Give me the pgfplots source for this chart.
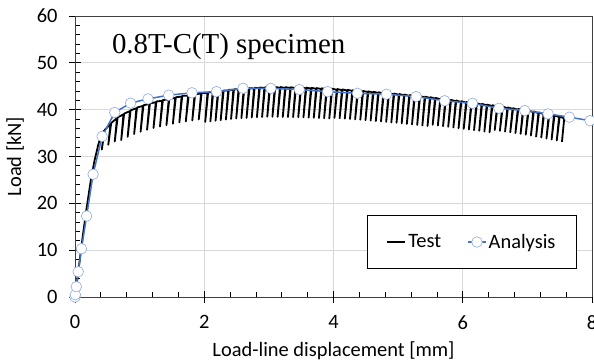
\documentclass[border=0pt]{standalone}
\usepackage{pgfplots}
\pgfplotsset{compat=1.18}
\usepackage{fontspec}
\setmainfont{Carlito}
\newfontfamily\timesfont{Liberation Serif}
\definecolor{anblue}{HTML}{4472C4}
\definecolor{mkblue}{HTML}{8FAADC}
\definecolor{gridgray}{HTML}{D9D9D9}
\definecolor{axgray}{HTML}{404040}
\pgfplotstableread{
x y
0 0
0.03 3
0.07 7.5
0.12 13
0.18 19
0.24 24.5
0.30 29
0.36 32.5
0.41 34.8
0.45 35.5
0.415 31.5
0.46 35.65
0.55 37.0
0.515 32.5
0.56 37.15
0.65 38.2
0.615 33.2
0.66 38.35
0.75 39.0
0.715 33.5
0.76 39.15
0.85 39.7
0.815 34.2
0.86 39.85
0.95 40.3
0.915 34.8
0.96 40.45
1.05 40.8
1.015 35.3
1.06 40.95
1.15 41.2
1.115 35.7
1.16 41.35
1.25 41.6
1.215 36.1
1.26 41.75
1.35 41.9
1.315 36.4
1.36 42.05
1.45 42.2
1.415 36.7
1.46 42.35
1.55 42.5
1.515 37.0
1.56 42.65
1.65 42.8
1.615 37.3
1.66 42.95
1.75 43.0
1.715 37.5
1.76 43.15
1.85 43.2
1.815 37.7
1.86 43.35
1.95 43.4
1.915 37.9
1.96 43.55
2.05 43.58
2.015 37.38
2.06 43.73
2.13 43.71
2.095 37.51
2.14 43.86
2.21 43.84
2.175 37.64
2.22 43.99
2.29 43.96
2.255 37.76
2.30 44.11
2.37 44.09
2.335 37.89
2.38 44.24
2.45 44.22
2.415 38.02
2.46 44.37
2.53 44.32
2.495 38.12
2.54 44.47
2.61 44.39
2.575 38.19
2.62 44.54
2.69 44.45
2.655 38.25
2.70 44.60
2.77 44.52
2.735 38.32
2.78 44.67
2.85 44.58
2.815 38.38
2.86 44.73
2.93 44.64
2.895 38.44
2.94 44.79
3.01 44.70
2.975 38.50
3.02 44.85
3.09 44.68
3.055 38.48
3.10 44.83
3.17 44.67
3.135 38.47
3.18 44.82
3.25 44.65
3.215 38.45
3.26 44.80
3.33 44.63
3.295 38.43
3.34 44.78
3.41 44.62
3.375 38.42
3.42 44.77
3.49 44.60
3.455 38.40
3.50 44.75
3.57 44.56
3.535 38.36
3.58 44.71
3.65 44.51
3.615 38.31
3.66 44.66
3.73 44.46
3.695 38.26
3.74 44.61
3.81 44.41
3.775 38.21
3.82 44.56
3.89 44.37
3.855 38.17
3.90 44.52
3.97 44.32
3.935 38.12
3.98 44.47
4.05 44.25
4.015 38.25
4.06 44.40
4.13 44.17
4.095 38.17
4.14 44.32
4.21 44.09
4.175 38.09
4.22 44.24
4.29 44.01
4.255 38.01
4.30 44.16
4.37 43.93
4.335 37.93
4.38 44.08
4.45 43.85
4.415 37.85
4.46 44.00
4.53 43.76
4.495 37.76
4.54 43.91
4.61 43.67
4.575 37.67
4.62 43.82
4.69 43.57
4.655 37.57
4.70 43.72
4.77 43.48
4.735 37.48
4.78 43.63
4.85 43.38
4.815 37.38
4.86 43.53
4.93 43.28
4.895 37.28
4.94 43.43
5.01 43.19
4.975 37.19
5.02 43.34
5.09 43.07
5.055 37.07
5.10 43.22
5.17 42.96
5.135 36.96
5.18 43.11
5.25 42.85
5.215 36.85
5.26 43.00
5.33 42.74
5.295 36.74
5.34 42.89
5.41 42.63
5.375 36.63
5.42 42.78
5.49 42.51
5.455 36.51
5.50 42.66
5.57 42.37
5.535 36.77
5.58 42.52
5.65 42.23
5.615 36.63
5.66 42.38
5.73 42.09
5.695 36.49
5.74 42.24
5.81 41.94
5.775 36.34
5.82 42.09
5.89 41.80
5.855 36.20
5.90 41.95
5.97 41.65
5.935 36.05
5.98 41.80
6.05 41.51
6.015 35.91
6.06 41.66
6.13 41.37
6.095 35.77
6.14 41.52
6.21 41.22
6.175 35.62
6.22 41.37
6.29 41.08
6.255 35.48
6.30 41.23
6.37 40.93
6.335 35.33
6.38 41.08
6.45 40.79
6.415 35.19
6.46 40.94
6.53 40.64
6.495 35.64
6.54 40.79
6.61 40.48
6.575 35.48
6.62 40.63
6.69 40.32
6.655 35.32
6.70 40.47
6.77 40.16
6.735 35.16
6.78 40.31
6.85 40.00
6.815 35.00
6.86 40.15
6.93 39.84
6.895 34.84
6.94 39.99
7.01 39.67
6.975 34.67
7.02 39.82
7.09 39.47
7.055 34.47
7.10 39.62
7.17 39.26
7.135 34.26
7.18 39.41
7.25 39.05
7.215 34.05
7.26 39.20
7.33 38.84
7.295 33.84
7.34 38.99
7.41 38.63
7.375 33.63
7.42 38.78
7.49 38.43
7.455 33.43
7.50 38.58
7.57 38.12
7.535 33.12
}\testdata
\pgfplotstableread{
x y
0 0
0.005 0.5
0.02 2.2
0.05 5.4
0.10 10.3
0.18 17.3
0.28 26.2
0.42 34.3
0.615 39.4
0.86 41.4
1.13 42.3
1.45 43.1
1.81 43.6
2.19 43.85
2.60 44.55
3.03 44.55
3.47 44.3
3.91 43.85
4.37 43.5
4.82 43.3
5.28 42.8
5.72 41.9
6.15 41.35
6.56 40.3
6.96 39.8
7.32 39.1
7.65 38.4
7.97 37.65
}\analysisdata
\pgfplotsset{
  testlegend/.style={legend image code/.code={\draw[black, line width=2.2bp] (0bp,0bp) -- (18bp,0bp);}},
  anlegend/.style={legend image code/.code={\draw[mark repeat=2, mark phase=2, ##1] plot coordinates {(0bp,0bp) (9bp,0bp) (18bp,0bp)};}},
}
\begin{document}
\begin{tikzpicture}
\path[use as bounding box] (0,0) rectangle (594bp,363bp);
\begin{axis}[
  at={(75bp,66bp)}, anchor=south west,
  scale only axis, width=517bp, height=281bp,
  xmin=0, xmax=8, ymin=0, ymax=60,
  xtick={0,2,4,6,8}, ytick={0,10,...,60},
  minor x tick num=4, minor y tick num=4,
  xtick pos=bottom, ytick pos=left,
  tick align=inside,
  major tick length=6bp, minor tick length=5bp,
  extra x ticks={0,2,4,6,8}, extra x tick labels={},
  extra y ticks={0,10,20,30,40,50,60}, extra y tick labels={},
  extra tick style={tick align=outside, xmajorgrids=false, ymajorgrids=false, major tick length=6bp},
  grid=major, major grid style={gridgray, line width=0.8bp},
  axis line style={axgray, line width=0.9bp},
  tick style={black, line width=0.8bp},
  /pgf/number format/assume math mode=true,
  ticklabel style={font=\fontsize{20.5}{24}\selectfont},
  xticklabel style={yshift=-15bp},
  yticklabel style={xshift=-14bp},
  label style={font=\fontsize{20.5}{24}\selectfont},
  xlabel style={yshift=1bp},
  xlabel={Load-line displacement [mm]},
  ylabel={Load [kN]},
  legend columns=2,
  legend cell align=left,
  legend style={at={(axis cs:6.14,11.74)}, anchor=center, draw=black, line width=0.8bp,
    font=\fontsize{20.5}{24}\selectfont, inner xsep=19bp, inner ysep=17bp,
    /tikz/every even column/.append style={column sep=24bp}},
]
\addplot[black, line width=1.8bp, line join=round, testlegend] table[x=x,y=y] {\testdata};
\addlegendentry{Test}
\addplot[anblue, line width=1.5bp, mark=*, mark size=5.3bp, mark options={fill=white, draw=mkblue, line width=0.6bp}, anlegend] table[x=x,y=y] {\analysisdata};
\addlegendentry{Analysis}
\node[anchor=base west, font=\timesfont\fontsize{29}{33}\selectfont, inner sep=0pt] at (axis cs:0.57,52.1) {0.8T-C(T) specimen};
\end{axis}
\end{tikzpicture}
\end{document}
